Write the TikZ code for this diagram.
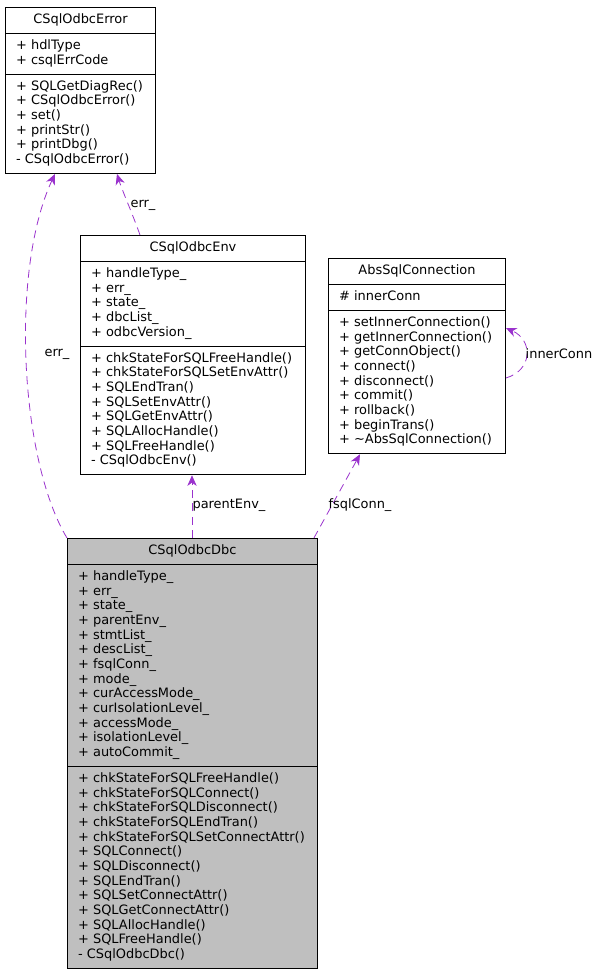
\documentclass[tikz,border=0pt]{standalone}
\usepackage{fontspec}
\setmainfont{DejaVu Sans}
\usepackage{tikz}
\usetikzlibrary{arrows.meta,calc,shapes.multipart}
\definecolor{orchidedge}{RGB}{154,50,205}
\definecolor{classgray}{RGB}{191,191,191}

\begin{document}
\begin{tikzpicture}[x=0.75pt,y=-0.75pt,
		every node/.style={font=\fontsize{9.7}{11}\selectfont},
		classbox/.style={rectangle split, rectangle split parts=3, draw, line width=0.7pt,
			anchor=north west, align=left, rectangle split part align={center,left,left},
			inner xsep=8pt, inner ysep=3.9pt, fill=white},
		assoc/.style={draw=orchidedge, line width=0.6pt, dash pattern=on 6pt off 4pt,
			-{Stealth[length=8pt,width=7pt,inset=2.5pt]}},
		lbl/.style={inner sep=1pt}
		]
	\useasboundingbox (0,0) rectangle (601,971);

	% --- Classes ---
	\node[classbox, minimum width=112.5pt] (err) at (5,7) {\strut CSqlOdbcError
		\nodepart{two}\strut + hdlType\\+ csqlErrCode\strut
		\nodepart{three}\strut + SQLGetDiagRec()\\+ CSqlOdbcError()\\+ set()\\+ printStr()\\+ printDbg()\\- CSqlOdbcError()\strut};

	\node[classbox, minimum width=168.75pt] (env) at (80,235) {\strut CSqlOdbcEnv
		\nodepart{two}\strut + handleType\_\\+ err\_\\+ state\_\\+ dbcList\_\\+ odbcVersion\_\strut
		\nodepart{three}\strut + chkStateForSQLFreeHandle()\\+ chkStateForSQLSetEnvAttr()\\+ SQLEndTran()\\+ SQLSetEnvAttr()\\+ SQLGetEnvAttr()\\+ SQLAllocHandle()\\+ SQLFreeHandle()\\- CSqlOdbcEnv()\strut};

	\node[classbox, minimum width=132.75pt] (abs) at (328,258) {\strut AbsSqlConnection
		\nodepart{two}\strut \# innerConn\strut
		\nodepart{three}\strut + setInnerConnection()\\+ getInnerConnection()\\+ getConnObject()\\+ connect()\\+ disconnect()\\+ commit()\\+ rollback()\\+ beginTrans()\\+ \textasciitilde AbsSqlConnection()\strut};

	\node[classbox, minimum width=187.5pt, fill=classgray] (dbc) at (67,538) {\strut CSqlOdbcDbc
		\nodepart{two}\strut + handleType\_\\+ err\_\\+ state\_\\+ parentEnv\_\\+ stmtList\_\\+ descList\_\\+ fsqlConn\_\\+ mode\_\\+ curAccessMode\_\\+ curIsolationLevel\_\\+ accessMode\_\\+ isolationLevel\_\\+ autoCommit\_\strut
		\nodepart{three}\strut + chkStateForSQLFreeHandle()\\+ chkStateForSQLConnect()\\+ chkStateForSQLDisconnect()\\+ chkStateForSQLEndTran()\\+ chkStateForSQLSetConnectAttr()\\+ SQLConnect()\\+ SQLDisconnect()\\+ SQLEndTran()\\+ SQLSetConnectAttr()\\+ SQLGetConnectAttr()\\+ SQLAllocHandle()\\+ SQLFreeHandle()\\- CSqlOdbcDbc()\strut};

	% --- Associations ---
	\draw[assoc] (dbc.north west) .. controls (20,460) and (10,270) .. ($(err.south west)+(50,0)$);
	\draw[assoc] ($(env.north west)+(60,0)$) .. controls (133,215) and (122,190) .. ($(err.south west)+(112,0)$);
	\draw[assoc] ($(dbc.north west)+(125,0)$) -- ($(env.south west)+(112,0)$);
	\draw[assoc] ($(dbc.north east)+(-4,0)$) -- ($(abs.south west)+(32,0)$);
	\draw[assoc] ($(abs.north east)+(0,120)$) .. controls (533,370) and (533,340) .. ($(abs.north east)+(0,70)$);

	% Labels
	\node[lbl] (l1) at (57,354) {err\_};
	\node[lbl] (l2) at (143,205) {err\_};
	\node[lbl] (l3) at (229,505) {parentEnv\_};
	\node[lbl] (l4) at (360,505) {fsqlConn\_};
	\node[lbl] (l5) at (559,354) {innerConn};

\end{tikzpicture}
\end{document}
